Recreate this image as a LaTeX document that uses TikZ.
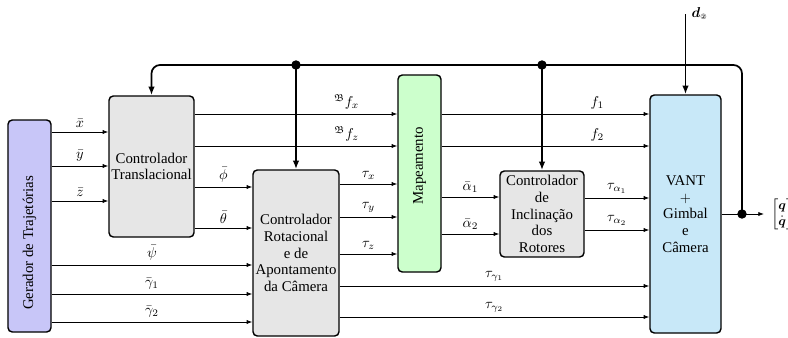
\documentclass[tikz,border=0pt]{standalone}
\usepackage{amsmath,amssymb}
\usepackage{fontspec}
\setmainfont{Liberation Serif}
\newfontfamily\circfont{DejaVu Sans}
\usetikzlibrary{arrows.meta, positioning, calc}
\definecolor{lavblue}{HTML}{C8C6F8}
\definecolor{boxgray}{HTML}{E6E6E6}
\definecolor{mintgreen}{HTML}{CCFFCC}
\definecolor{skyblue}{HTML}{C8E8F8}

\tikzset{
  blk/.style={draw, line width=1pt, rounded corners=3pt, align=center, inner sep=1pt, font=\fontsize{10.4}{11.7}\selectfont},
  sig/.style={-{Latex[length=4pt,width=3pt]}, line width=0.6pt},
  fb/.style={-{Latex[length=6pt,width=4.5pt]}, line width=1.2pt},
  lbl/.style={above, inner sep=3pt, font=\fontsize{10}{12}\selectfont},
}

\begin{document}
\begin{tikzpicture}[x=0.7pt, y=-0.7pt]
  \useasboundingbox (0,0) rectangle (788,337);
  % blocos
  \node[blk, fill=lavblue, minimum width=30.1pt, minimum height=148.4pt] (gen) at (29.5,226) {};
  \node[rotate=90, font=\fontsize{10.4}{11.7}\selectfont] (genlbl) at (29.5,243) {Gerador de Trajetórias};
  \node[blk, fill=boxgray, minimum width=59.5pt, minimum height=98.7pt] (trans) at (151.5,166.5) {Controlador\\Translacional};
  \node[blk, fill=boxgray, minimum width=60.2pt, minimum height=116.2pt] (rot) at (296,253) {Controlador\\Rotacional\\e de\\Apontamento\\da Câmera};
  \node[blk, fill=mintgreen, minimum width=30.1pt, minimum height=137.9pt] (map) at (419.5,173.5) {};
  \node[rotate=90, font=\fontsize{10.4}{11.7}\selectfont] (maplbl) at (419.5,166) {Mapeamento};
  \node[blk, fill=boxgray, minimum width=58.8pt, minimum height=60.2pt] (incl) at (542,214) {Controlador\\de\\Inclinação\\dos\\Rotores};
  \node[blk, fill=skyblue, minimum width=49.7pt, minimum height=166.6pt] (vant) at (685.5,214) {VANT\\$+$\\Gimbal\\e\\Câmera};
  \node[anchor=west, inner xsep=5pt, inner ysep=0pt, font=\small] (out) at (764,214) {$\begin{bmatrix}\boldsymbol{q}\\ \dot{\boldsymbol{q}}\end{bmatrix}$};
  \node[anchor=west, inner sep=1pt] (dlbl) at (690,14) {$\boldsymbol{d}_{\text{\circfont\tiny ②}}$};

  % sinais
  \foreach \y/\t in {132/\bar{x}, 166/\bar{y}, 201/\bar{z}}
    \draw[sig] (gen.east |- 0,\y) -- node[lbl] {$\t$} (trans.west |- 0,\y);
  \foreach \y/\t in {265/\bar{\psi}, 294/\bar{\gamma}_1, 322/\bar{\gamma}_2}
    \draw[sig] (gen.east |- 0,\y) -- node[lbl] {$\t$} (rot.west |- 0,\y);
  \foreach \y/\t in {187/\bar{\phi}, 228/\bar{\theta}}
    \draw[sig] (trans.east |- 0,\y) -- node[lbl] {$\t$} (rot.west |- 0,\y);
  \foreach \y/\t in {114/x, 146/z}
    \draw[sig] (trans.east |- 0,\y) -- node[lbl, pos=0.75] {${}^{\mathfrak{B}}f_\t$} (map.west |- 0,\y);
  \foreach \y/\t in {184/x, 217/y, 254/z}
    \draw[sig] (rot.east |- 0,\y) -- node[lbl] {$\tau_\t$} (map.west |- 0,\y);
  \foreach \y/\t in {114/1, 146/2}
    \draw[sig] (map.east |- 0,\y) -- node[lbl, pos=0.75] {$f_\t$} (vant.west |- 0,\y);
  \foreach \y/\t in {197/1, 234/2}
    \draw[sig] (map.east |- 0,\y) -- node[lbl] {$\bar{\alpha}_\t$} (incl.west |- 0,\y);
  \foreach \y/\t in {198/1, 230/2}
    \draw[sig] (incl.east |- 0,\y) -- node[lbl] {$\tau_{\alpha_\t}$} (vant.west |- 0,\y);
  \foreach \y/\t in {286/1, 317/2}
    \draw[sig] (rot.east |- 0,\y) -- node[lbl] {$\tau_{\gamma_\t}$} (vant.west |- 0,\y);

  % realimentacao
  \coordinate (tap) at (742,214);
  \draw[sig] (vant.east) -- (out.west);
  \draw[fb, rounded corners=6pt] (tap) -- (tap |- 0,65) -- (trans.north |- 0,65) -- (trans.north);
  \draw[fb] (rot.north |- 0,65) -- (rot.north);
  \draw[fb] (incl.north |- 0,65) -- (incl.north);
  \fill (tap) circle (3.3pt);
  \fill (rot.north |- 0,65) circle (3.3pt);
  \fill (incl.north |- 0,65) circle (3.3pt);
  \draw[fb] (vant.north |- dlbl.west) -- (vant.north);
\end{tikzpicture}
\end{document}
